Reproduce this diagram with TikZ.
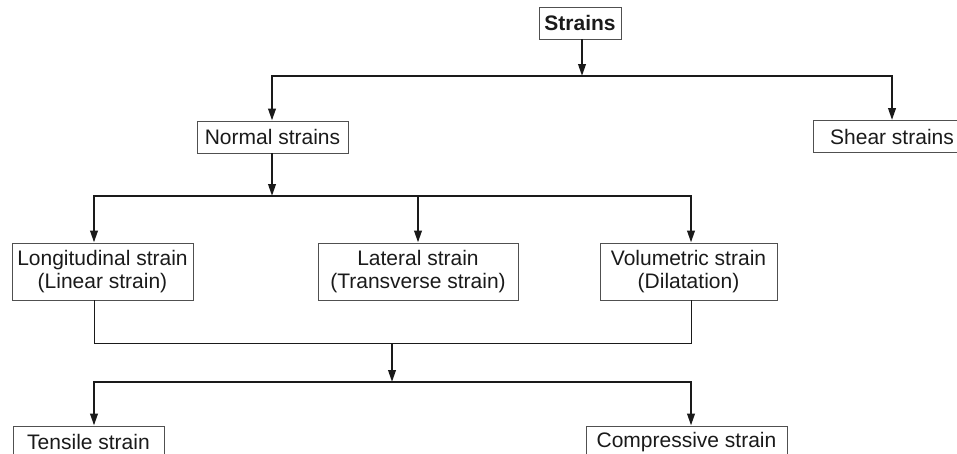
\documentclass[tikz,border=0pt]{standalone}
\usepackage{fontspec}
\setmainfont{Liberation Sans}
\usetikzlibrary{arrows.meta}
\definecolor{inkline}{HTML}{1A1A1A}
\definecolor{boxline}{HTML}{505050}

\begin{document}
\begin{tikzpicture}[x=1pt, y=-1pt, color=inkline, every node/.style={draw=boxline, line width=.9pt, inner sep=0pt, align=center, font=\fontsize{21}{23}\selectfont},%
        >={Triangle[length=12pt,width=7.5pt]}, link/.style={line width=2.2pt, ->}, plain/.style={line width=.9pt},%
        onerow/.style={minimum height=32pt}, tworow/.style={minimum height=57pt}]
    \useasboundingbox (0,0) rectangle (957,453);
    % boxes
    \node[onerow, minimum width=82pt, font=\bfseries\fontsize{21}{23}\selectfont] (strains) at (580,23) {Strains};
    \node[onerow, minimum width=151pt] (normal) at (272.5,137) {Normal strains};
    \node[onerow, minimum width=158pt] (shear) at (892,136.5) {Shear strains};
    \node[tworow, minimum width=181pt] (long) at (102.5,271.5) {Longitudinal strain\\(Linear strain)};
    \node[tworow, minimum width=200pt] (lat) at (418,271.5) {Lateral strain\\(Transverse strain)};
    \node[tworow, minimum width=177pt] (vol) at (688.5,271.5) {Volumetric strain\\(Dilatation)};
    \node[onerow, minimum width=151pt] (tens) at (88.5,442) {Tensile strain};
    \node[onerow, minimum width=201pt] (comp) at (686.5,442) {Compressive strain};
    % junctions
    \coordinate (top) at (582,76);
    \coordinate (mid) at (272,196);
    \coordinate (l1) at (94,343);
    \coordinate (l2) at (691,343);
    \coordinate (m2) at (392,343);
    \coordinate (m3) at (392,382);
    % connectors
    \draw[link] (strains.south -| top) -- (top);
    \draw[link] (top) -| (normal.north -| mid);
    \draw[link] (top) -| (shear.north);
    \draw[link] (normal.south -| mid) -- (mid);
    \draw[link] (mid) -| (long.north -| l1);
    \draw[link] (mid) -| (lat.north);
    \draw[link] (mid) -| (vol.north -| l2);
    \draw[plain] (long.south -| l1) -- (l1) -- (l2) -- (vol.south -| l2);
    \draw[link] (m2) -- (m3);
    \draw[link] (m3) -| (tens.north -| l1);
    \draw[link] (m3) -| (comp.north -| l2);
\end{tikzpicture}
\end{document}
